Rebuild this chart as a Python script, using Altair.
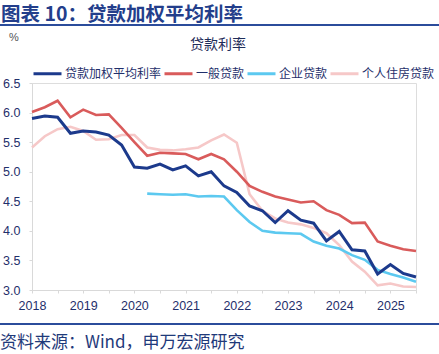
import altair as alt
import pandas as pd

quarters = [f"{y}Q{q}" for y in range(2018, 2026) for q in range(1, 5)][:31]

series_names = ["贷款加权平均利率", "一般贷款", "企业贷款", "个人住房贷款"]
series_colors = ["#1C3A8C", "#D95B5B", "#5CC9F0", "#F6C8C8"]

weighted = [5.90, 5.94, 5.92, 5.65, 5.69, 5.67, 5.62, 5.45, 5.08, 5.06, 5.13, 5.03,
            5.10, 4.93, 5.00, 4.76, 4.65, 4.42, 4.34, 4.14, 4.34, 4.18, 4.13, 3.83,
            3.99, 3.68, 3.66, 3.27, 3.43, 3.28, 3.22]
general = [6.01, 6.09, 6.20, 5.92, 6.05, 5.96, 5.97, 5.74, 5.50, 5.27, 5.32, 5.31,
           5.30, 5.21, 5.30, 5.21, 5.00, 4.76, 4.66, 4.58, 4.53, 4.48, 4.50, 4.35,
           4.27, 4.13, 4.14, 3.82, 3.75, 3.69, 3.66]
enterprise = [None] * 9 + [4.63, 4.62, 4.61, 4.62, 4.58, 4.59, 4.58, 4.35, 4.15, 4.00,
                           3.97, 3.96, 3.95, 3.82, 3.75, 3.70, 3.59, 3.51, 3.34, 3.27,
                           3.21, 3.14]
housing = [5.41, 5.60, 5.72, 5.76, 5.69, 5.54, 5.55, 5.62, 5.62, 5.41, 5.37, 5.36,
           5.38, 5.41, 5.53, 5.63, 5.49, 4.62, 4.34, 4.21, 4.14, 4.11, 4.05, 3.96,
           3.76, 3.48, 3.31, 3.08, 3.11, 3.06, 3.05]

x_ticks = [2018, 2018.5, 2019, 2019.5, 2020, 2020.5, 2021, 2021.5, 2022, 2022.5,
           2023, 2023.5, 2024, 2024.5, 2025, 2025.5]
y_ticks = [3.0, 3.5, 4.0, 4.5, 5.0, 5.5, 6.0, 6.5]

rows = []
for name, vals in zip(series_names, [weighted, general, enterprise, housing]):
    for ql, v in zip(quarters, vals):
        if v is None:
            continue
        yr = int(ql[:4])
        q = int(ql[-1])
        rows.append({"series": name, "t": yr + (q - 1) * 0.25, "value": v})
df = pd.DataFrame(rows)

navy = "#1F2F6B"
num_font = "Liberation Sans"
cjk_font = "Noto Sans CJK SC"

x_enc = alt.X("t:Q", scale=alt.Scale(domain=[2018, 2025.5], nice=False, zero=False),
              axis=alt.Axis(values=x_ticks, title=None, grid=False, labelFlush=False,
                            labelExpr="datum.value % 1 == 0 ? format(datum.value, 'd') : ''",
                            domainColor="#D9D9D9", tickColor="#D9D9D9", tickSize=3,
                            labelPadding=6, labelFontSize=12.5, labelColor=navy,
                            labelFont=num_font))
y_enc = alt.Y("value:Q", scale=alt.Scale(domain=[3.0, 6.5], nice=False, zero=False),
              axis=alt.Axis(values=y_ticks, format=".1f", title=None, grid=False,
                            labelFlush=False,
                            domainColor="#D9D9D9", tickColor="#D9D9D9", tickSize=3,
                            labelPadding=9, labelFontSize=12.5, labelColor=navy,
                            labelFont=num_font))
legend = alt.Legend(orient="none", legendX=0, legendY=-25, direction="horizontal",
                    columns=4, title=None, symbolType="stroke", symbolStrokeWidth=3,
                    symbolSize=784, labelFontSize=12, labelColor=navy, labelFont=cjk_font,
                    labelOffset=2, columnPadding=-4, padding=0)
color_enc = alt.Color("series:N", scale=alt.Scale(domain=series_names, range=series_colors),
                      legend=legend)

widths = {"贷款加权平均利率": 3, "一般贷款": 2.6, "企业贷款": 2.6, "个人住房贷款": 2.6}
layers = []
for name in ["个人住房贷款", "企业贷款", "一般贷款", "贷款加权平均利率"]:
    layers.append(
        alt.Chart(df).transform_filter(alt.datum.series == name)
        .mark_line(strokeWidth=widths[name])
        .encode(x=x_enc, y=y_enc, color=color_enc)
    )

one = pd.DataFrame({"k": [0]})

def label(text, x, y, size, color, weight="normal", align="left", font=cjk_font):
    return alt.Chart(one).mark_text(text=text, fontSize=size, color=color, fontWeight=weight,
                                    align=align, baseline="middle", font=font).encode(
        x=alt.value(x), y=alt.value(y))

def hline(y):
    return alt.Chart(one).mark_rule(color="#2B4C9B", strokeWidth=2).encode(
        x=alt.value(-32), x2=alt.value(407), y=alt.value(y))

deco = [
    label("图表 10：贷款加权平均利率", -31, -68.5, 19.5, "#233E8B", weight="bold"),
    hline(-58),
    label("%", -23, -45, 11, "#555555", font=num_font),
    label("贷款利率", 186, -38, 14, "#1F2D5A", align="center"),
    hline(241),
    label("资料来源：Wind，申万宏源研究", -32, 260, 17, "#1F3A7A"),
]

chart = alt.layer(*layers, *deco).properties(
    width=384, height=207,
    autosize=alt.AutoSizeParams(type="none"),
    padding={"left": 32, "top": 83, "right": 23, "bottom": 64},
).configure_view(stroke=None).configure(background="white")

chart.save("out.html", embed_options={"renderer": "svg", "actions": False})
